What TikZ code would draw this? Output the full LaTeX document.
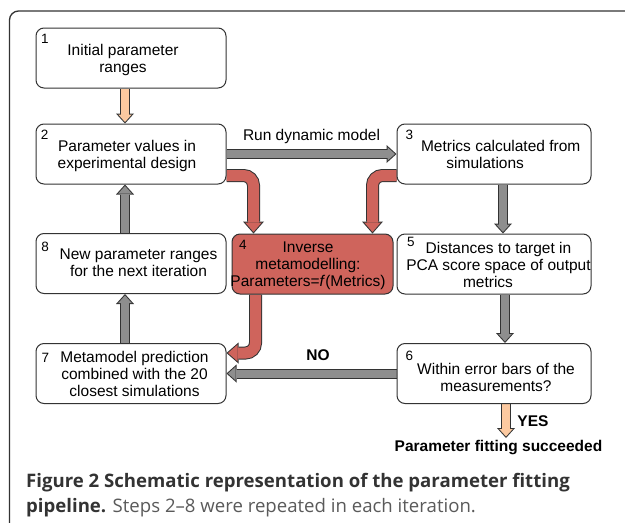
\documentclass[tikz,border=0pt]{standalone}
\usepackage{fontspec}
\setmainfont{Liberation Sans}
\newfontfamily\capfont{Open Sans}
\usetikzlibrary{arrows.meta}
\definecolor{dk}{HTML}{333333}
\definecolor{gr}{HTML}{8E8E8E}
\definecolor{rd}{HTML}{CF645C}
\definecolor{og}{HTML}{FCC9A0}
\definecolor{capdark}{HTML}{333333}
\definecolor{capgray}{HTML}{5A5A5A}
\pgfdeclarelayer{bg}
\pgfsetlayers{bg,main}
\begin{document}
\begin{tikzpicture}[x=1pt,y=-1pt,
  box/.style={draw=dk, line width=1pt, rounded corners=8pt, fill=white, minimum height=60pt, inner sep=0pt},
  txt/.style={font=\fontsize{15.5}{17}\selectfont, align=center, inner sep=0pt, text=black},
  num/.style={font=\fontsize{13.5}{15}\selectfont, anchor=base west, inner sep=0pt},
  lbl/.style={font=\fontsize{15.5}{17}\selectfont, anchor=base, inner sep=0pt},
  gout/.style={draw=dk, line width=10pt, -{Triangle[width=18pt,length=10pt,line width=0pt]}},
  gin/.style={draw=#1, line width=8pt, shorten >=1.5pt, -{Triangle[width=13.5pt,length=7.5pt,line width=0pt]}},
  rout/.style={draw=dk, line width=13pt, rounded corners=10pt, -{Triangle[width=21pt,length=12pt,line width=0pt]}},
  rin/.style={draw=rd, line width=11pt, rounded corners=10pt, shorten >=1.5pt, -{Triangle[width=16.6pt,length=9.5pt,line width=0pt]}}
]
\useasboundingbox (0,0) rectangle (625,523);
\begin{pgfonlayer}{bg}
\fill[white] (0,0) rectangle (625,523);
\end{pgfonlayer}
\begin{scope}
\clip (0,0) rectangle (625,523);
\draw[dk, line width=1.3pt, rounded corners=9pt] (9.5,540) -- (9.5,11) -- (640,11);
\end{scope}

% boxes
\node[box, minimum width=190pt] (n1) at (131,58) {};
\node[box, minimum width=190pt] (n2) at (131,154) {};
\node[box, minimum width=190pt] (n8) at (131,263.5) {};
\node[box, minimum width=190pt] (n7) at (131,373.5) {};
\node[box, minimum width=194pt] (n3) at (494,154) {};
\node[box, minimum width=194pt] (n5) at (494,264) {};
\node[box, minimum width=194pt] (n6) at (494,373.5) {};
\node[box, minimum width=161pt, fill=rd] (n4) at (312.5,264) {};

% texts
\node[txt] (t1) at (123,60) {Initial parameter\\ranges};
\node[txt] (t2) at (127,156.3) {Parameter values in\\experimental design};
\node[txt] (t3) at (500.7,154.6) {Metrics calculated from\\simulations\hspace*{31pt}};
\node[txt] (t4) at (308,266) {Inverse\\metamodelling:\\Parameters=\textit{f}(Metrics)};
\node[txt] (t5) at (498.5,264.8) {Distances to target in\\PCA score space of output\\metrics\hspace*{21pt}};
\node[txt] (t6) at (496,377) {Within error bars of the\\measurements?};
\node[txt] (t7) at (134.5,373.5) {Metamodel prediction\\combined with the 20\\closest simulations};
\node[txt] (t8) at (138.5,263) {New parameter ranges\\for the next iteration};

% numbers
\node[num] (k1) at (41,43.3) {1};
\node[num] (k2) at (40.8,139.3) {2};
\node[num] (k3) at (405.5,139) {3};
\node[num] (k4) at (239,249.3) {4};
\node[num] (k5) at (407,246.7) {5};
\node[num] (k6) at (405.5,360) {6};
\node[num] (k7) at (41.5,362) {7};
\node[num] (k8) at (41.2,251.7) {8};

% labels
\node[lbl] (run) at (311.5,140) {Run dynamic model};
\node[lbl, font=\fontsize{15.5}{17}\selectfont\bfseries] (no) at (318,360) {NO};
\node[lbl, font=\fontsize{15.5}{17}\selectfont\bfseries] (yes) at (533,426) {YES};
\node[lbl, font=\fontsize{15.5}{17}\selectfont\bfseries] (succ) at (498.5,451.5) {Parameter fitting succeeded};
\coordinate (yesend) at (506,438);

% caption
\node[anchor=base west, inner sep=0pt, font=\capfont\fontsize{18.6}{25}\selectfont\bfseries, text=capdark] (cap1) at (26,487) {Figure 2 Schematic representation of the parameter fitting};
\node[anchor=base west, inner sep=0pt, font=\capfont\fontsize{18.6}{25}\selectfont, text=capgray] (cap2) at (26,512) {\textcolor{capdark}{\bfseries pipeline.} Steps 2–8 were repeated in each iteration.};

% connectors
\begin{pgfonlayer}{bg}
\draw[gout] ([xshift=-6pt]n1.south) -- ([xshift=-6pt]n2.north);
\draw[gin=og] ([xshift=-6pt]n1.south) -- ([xshift=-6pt]n2.north);
\draw[gout] (n2.east) -- (n3.west);
\draw[gin=gr] (n2.east) -- (n3.west);
\draw[gout] ([xshift=9pt]n3.south) -- ([xshift=9pt]n5.north);
\draw[gin=gr] ([xshift=9pt]n3.south) -- ([xshift=9pt]n5.north);
\draw[gout] ([xshift=11pt]n5.south) -- ([xshift=11pt]n6.north);
\draw[gin=gr] ([xshift=11pt]n5.south) -- ([xshift=11pt]n6.north);
\draw[gout] (n6.west) -- (n7.east);
\draw[gin=gr] (n6.west) -- (n7.east);
\draw[gout] ([xshift=-6pt]n7.north) -- ([xshift=-6pt]n8.south);
\draw[gin=gr] ([xshift=-6pt]n7.north) -- ([xshift=-6pt]n8.south);
\draw[gout] ([xshift=-6pt]n8.north) -- ([xshift=-6pt]n2.south);
\draw[gin=gr] ([xshift=-6pt]n8.north) -- ([xshift=-6pt]n2.south);
\draw[gout] ([xshift=12pt]n6.south) -- (yesend);
\draw[gin=og] ([xshift=12pt]n6.south) -- (yesend);
\draw[rout] ([yshift=9pt]n2.south east) -| ([xshift=22pt]n4.north west);
\draw[rin] ([yshift=9pt]n2.south east) -| ([xshift=22pt]n4.north west);
\draw[rout] ([yshift=9pt]n3.south west) -| ([xshift=-21pt]n4.north east);
\draw[rin] ([yshift=9pt]n3.south west) -| ([xshift=-21pt]n4.north east);
\draw[rout] ([xshift=24pt]n4.south west) |- ([yshift=-10pt]n7.north east);
\draw[rin] ([xshift=24pt]n4.south west) |- ([yshift=-10pt]n7.north east);
\end{pgfonlayer}
\end{tikzpicture}
\end{document}
